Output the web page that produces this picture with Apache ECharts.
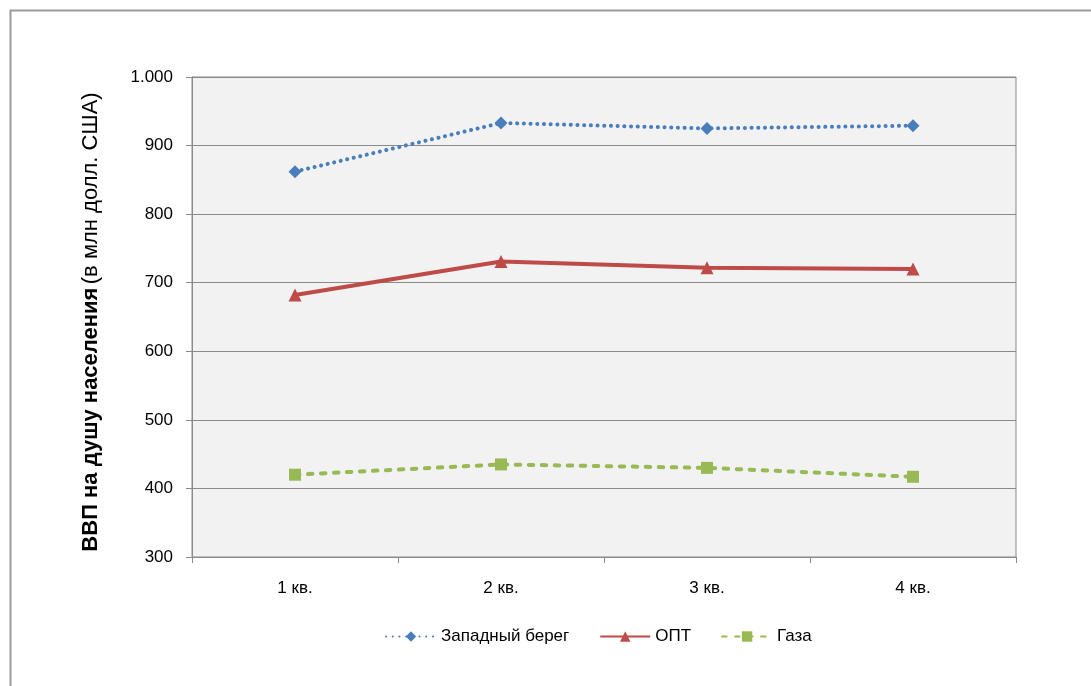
<!DOCTYPE html>
<html>
<head>
<meta charset="utf-8">
<script src="https://cdn.jsdelivr.net/npm/echarts@6/dist/echarts.min.js"></script>
<style>
  html, body { margin: 0; padding: 0; background: #ffffff; }
  #chart { width: 1091px; height: 686px; }
</style>
</head>
<body>
<div id="chart"></div>
<script>
// Quarterly GDP per capita
const quarters = ['1 кв.', '2 кв.', '3 кв.', '4 кв.'];
const westBank = [862, 933, 925, 929];
const opt = [682, 731, 722, 720];
const gaza = [420, 435, 430, 417];
const seriesNames = ['Западный берег', 'ОПТ', 'Газа'];

const FONT = '"Liberation Sans Narrow", "Liberation Sans", Arial, sans-serif';

const chart = echarts.init(document.getElementById('chart'));

function fmtThousands(v) {
  return String(v).replace(/\B(?=(\d{3})+(?!\d))/g, '.');
}

chart.setOption({
  backgroundColor: '#ffffff',
  animation: false,
  graphic: [{
    type: 'rect',
    shape: { x: 10.5, y: 10.5, width: 1300, height: 900 },
    style: { fill: 'none', stroke: '#9a9a9a', lineWidth: 2 },
    silent: true
  }],
  grid: {
    left: 192, right: 75, top: 77, bottom: 129,
    show: true,
    backgroundColor: '#f2f2f2',
    borderColor: '#8a8a8a',
    borderWidth: 1
  },
  legend: {
    bottom: 36,
    left: 380,
    itemWidth: 50,
    itemHeight: 13,
    itemGap: 30,
    textStyle: { fontFamily: FONT, fontSize: 17, color: '#000' },
    data: seriesNames
  },
  xAxis: {
    type: 'category',
    data: quarters,
    boundaryGap: true,
    axisLine: { lineStyle: { color: '#8a8a8a', width: 1 } },
    axisTick: { show: true, length: 6, lineStyle: { color: '#8a8a8a' } },
    axisLabel: { fontFamily: FONT, fontSize: 17, color: '#000', margin: 23 },
    splitLine: { show: false }
  },
  yAxis: {
    type: 'value',
    min: 300, max: 1000, interval: 100,
    name: '{b|ВВП на душу населения} {n|(в млн долл. США)}',
    nameLocation: 'middle',
    nameRotate: 90,
    nameGap: 90,
    nameTextStyle: {
      fontFamily: FONT, color: '#000',
      padding: [0, 10, 0, 0],
      rich: {
        b: { fontFamily: FONT, fontSize: 22, fontWeight: 'bold', color: '#000' },
        n: { fontFamily: FONT, fontSize: 22, color: '#000' }
      }
    },
    axisLine: { show: true, lineStyle: { color: '#8a8a8a', width: 1 } },
    axisTick: { show: true, length: 6, lineStyle: { color: '#8a8a8a' } },
    axisLabel: {
      fontFamily: FONT, fontSize: 17, color: '#000', margin: 19,
      formatter: fmtThousands
    },
    splitLine: { show: true, lineStyle: { color: '#8a8a8a', width: 1 } }
  },
  series: [
    {
      name: seriesNames[0],
      type: 'line',
      data: westBank,
      symbol: 'diamond',
      symbolSize: 13,
      itemStyle: { color: '#4a7ebb' },
      lineStyle: { color: '#4a7ebb', width: 4, type: [0.1, 6.6], cap: 'round' }
    },
    {
      name: seriesNames[1],
      type: 'line',
      data: opt,
      symbol: 'triangle',
      symbolSize: 13,
      itemStyle: { color: '#be4b48' },
      lineStyle: { color: '#be4b48', width: 4 }
    },
    {
      name: seriesNames[2],
      type: 'line',
      data: gaza,
      symbol: 'rect',
      symbolSize: 12,
      itemStyle: { color: '#98b954' },
      lineStyle: { color: '#98b954', width: 4, type: [4.5, 8.5], cap: 'round' }
    }
  ]
});
</script>
</body>
</html>
